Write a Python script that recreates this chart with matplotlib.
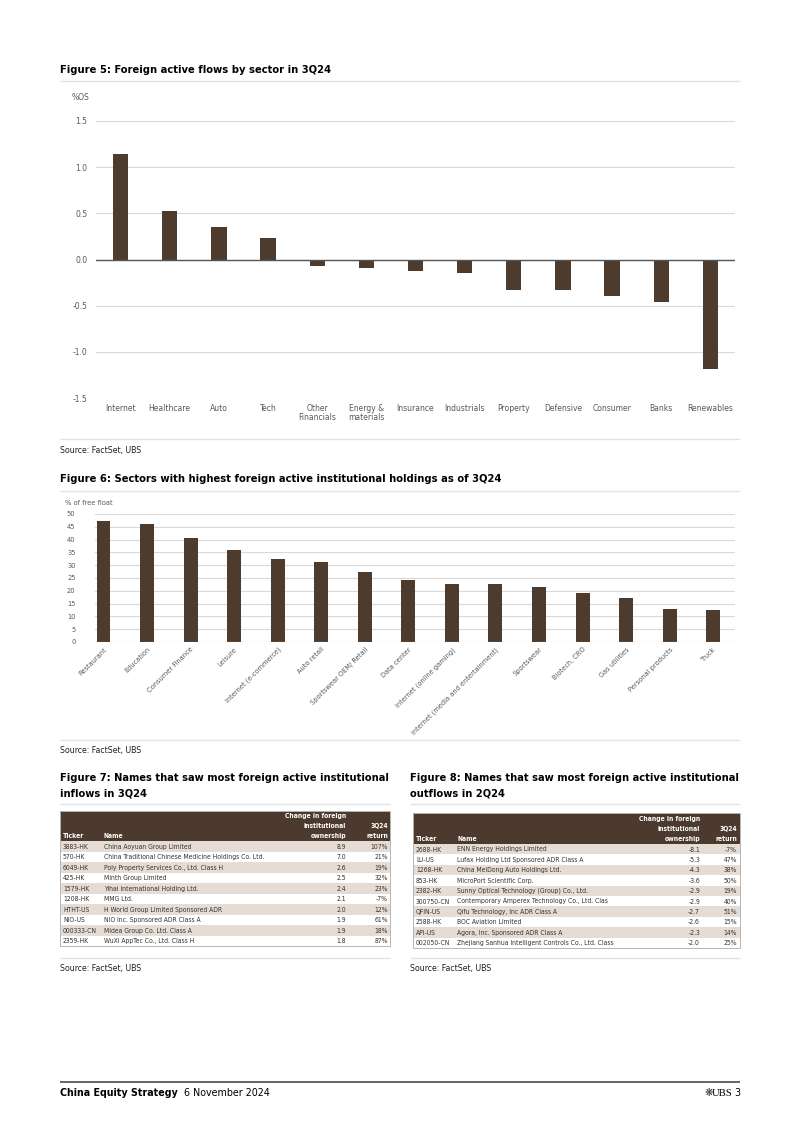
import matplotlib
matplotlib.use('Agg')
import matplotlib.pyplot as plt
from matplotlib import font_manager
from matplotlib.patches import Rectangle

W, H = 802, 1134

# Figure 5 data
flow_sectors = ['Internet', 'Healthcare', 'Auto', 'Tech', 'Other\nFinancials', 'Energy &\nmaterials',
                'Insurance', 'Industrials', 'Property', 'Defensive', 'Consumer', 'Banks', 'Renewables']
flow_values = [1.147, 0.527, 0.357, 0.234, -0.065, -0.09, -0.126, -0.148, -0.328, -0.328, -0.393, -0.465, -1.186]
flow_ticks = [-1.5, -1.0, -0.5, 0.0, 0.5, 1.0, 1.5]

# Figure 6 data
hold_sectors = ['Restaurant', 'Education', 'Consumer Finance', 'Leisure', 'Internet (e-commerce)', 'Auto retail',
                'Sportswear OEM/ Retail', 'Data center', 'Internet (online gaming)',
                'Internet (media and entertainment)', 'Sportswear', 'Biotech, CRO', 'Gas utilities',
                'Personal products', 'Truck']
hold_values = [47.4, 46.0, 40.5, 36.0, 32.6, 31.3, 27.5, 24.4, 22.7, 22.6, 21.3, 19.2, 17.0, 13.0, 12.5]
hold_ticks = [0, 5, 10, 15, 20, 25, 30, 35, 40, 45, 50]

# Figure 7 data
in_tickers = ['3883-HK', '570-HK', '6049-HK', '425-HK', '1579-HK', '1208-HK', 'HTHT-US', 'NIO-US',
              '000333-CN', '2359-HK']
in_names = ['China Aoyuan Group Limited', 'China Traditional Chinese Medicine Holdings Co. Ltd.',
            'Poly Property Services Co., Ltd. Class H', 'Minth Group Limited', 'Yihai International Holding Ltd.',
            'MMG Ltd.', 'H World Group Limited Sponsored ADR', 'NIO Inc. Sponsored ADR Class A',
            'Midea Group Co. Ltd. Class A', 'WuXi AppTec Co., Ltd. Class H']
in_change = [8.9, 7.0, 2.6, 2.5, 2.4, 2.1, 2.0, 1.9, 1.9, 1.8]
in_return = [107, 21, 19, 32, 23, -7, 12, 61, 18, 87]

# Figure 8 data
out_tickers = ['2688-HK', 'LU-US', '1268-HK', '853-HK', '2382-HK', '300750-CN', 'QFIN-US', '2588-HK',
               'API-US', '002050-CN']
out_names = ['ENN Energy Holdings Limited', 'Lufax Holding Ltd Sponsored ADR Class A',
             'China MeiDong Auto Holdings Ltd.', 'MicroPort Scientific Corp.',
             'Sunny Optical Technology (Group) Co., Ltd.', 'Contemporary Amperex Technology Co., Ltd. Clas',
             'Qifu Technology, Inc ADR Class A', 'BOC Aviation Limited', 'Agora, Inc. Sponsored ADR Class A',
             'Zhejiang Sanhua Intelligent Controls Co., Ltd. Class']
out_change = [-8.1, -5.3, -4.3, -3.6, -2.9, -2.9, -2.7, -2.6, -2.3, -2.0]
out_return = [-7, 47, 38, 50, 19, 40, 51, 15, 14, 25]

BROWN = '#4d3b2e'
HEAD = '#4b3a2d'
SHADE = '#e6dcd3'
GRID = '#d9d9d9'
GREY = '#595959'
RULE = '#e3e3e3'

# pick the narrowest sans available
fonts = font_manager.fontManager.ttflist
names = {f.name for f in fonts}
if 'Liberation Sans Narrow' in names:
    plt.rcParams['font.family'] = ['Liberation Sans Narrow', 'DejaVu Sans']
elif any(f.name == 'DejaVu Sans' and 'Condensed' in f.fname for f in fonts):
    plt.rcParams['font.family'] = ['DejaVu Sans']
    plt.rcParams['font.stretch'] = 'condensed'
else:
    plt.rcParams['font.family'] = ['Liberation Sans', 'DejaVu Sans']

fig = plt.figure(figsize=(W / 100, H / 100), dpi=100)
page = fig.add_axes([0, 0, 1, 1])
page.set_xlim(0, W)
page.set_ylim(H, 0)
page.axis('off')
renderer = fig.canvas.get_renderer()


def fit(s, target, weight='normal'):
    # font size that makes s about target pixels wide
    t = page.text(0, 0, s, fontsize=10, fontweight=weight)
    w = t.get_window_extent(renderer).width
    t.remove()
    return 10 * target / w


def box(x0, y0, x1, y1):
    return [x0 / W, 1 - y1 / H, (x1 - x0) / W, (y1 - y0) / H]


def rule(y, x0=60, x1=740, color=RULE, lw=1.0):
    page.plot([x0, x1], [y, y], color=color, lw=lw, solid_capstyle='butt')


FS_TITLE = fit('Figure 5: Foreign active flows by sector in 3Q24', 269, 'bold')
FS_TITLE2 = fit('Figure 7: Names that saw most foreign active institutional', 326, 'bold')
FS_SRC = fit('Source: FactSet, UBS', 83)
FS_TICK5 = fit('Healthcare', 42)
FS_TICK6 = fit('Internet (media and entertainment)', 118)
FS_TAB = fit('China Traditional Chinese Medicine Holdings Co. Ltd.', 160)
FS_FOOT = fit('China Equity Strategy', 117, 'bold')


def title(x, y, s, fs=FS_TITLE):
    page.text(x, y, s, fontsize=fs, fontweight='bold', color='#000000', va='center', ha='left')


def source(x, y):
    page.text(x, y, 'Source: FactSet, UBS', fontsize=FS_SRC, color='#222222', va='center', ha='left')


# ---------- Figure 5 ----------
title(60, 70, 'Figure 5: Foreign active flows by sector in 3Q24')
rule(81)
page.text(72, 97, '%OS', fontsize=FS_TICK5, color=GREY, va='center', ha='left')

ax1 = fig.add_axes(box(96, 121, 735, 398))
ax1.bar(range(len(flow_values)), flow_values, width=0.31, color=BROWN, zorder=3)
ax1.set_xlim(-0.5, len(flow_values) - 0.5)
ax1.set_ylim(-1.5, 1.5)
ax1.set_yticks(flow_ticks)
ax1.set_yticklabels([f'{t:.1f}' for t in flow_ticks])
ax1.set_xticks(range(len(flow_sectors)))
ax1.set_xticklabels(flow_sectors, linespacing=1.0)
ax1.yaxis.grid(True, color=GRID, lw=0.8, zorder=0)
ax1.axhline(0, color='#555555', lw=1.0, zorder=4)
for sp in ax1.spines.values():
    sp.set_visible(False)
ax1.tick_params(axis='both', length=0, labelsize=FS_TICK5, labelcolor=GREY)
ax1.tick_params(axis='y', pad=6)
ax1.tick_params(axis='x', pad=4)

rule(439)
source(60, 451)

# ---------- Figure 6 ----------
title(60, 479, 'Figure 6: Sectors with highest foreign active institutional holdings as of 3Q24')
rule(491)
page.text(65, 503, '% of free float', fontsize=FS_TICK6, color=GREY, va='center', ha='left')

ax2 = fig.add_axes(box(95, 514, 735, 642))
ax2.bar(range(len(hold_values)), hold_values, width=0.32, color=BROWN, zorder=3)
ax2.set_xlim(-0.195, len(hold_values) - 1 + 0.5)
ax2.set_ylim(0, 50)
ax2.set_yticks(hold_ticks)
ax2.set_xticks(range(len(hold_sectors)))
ax2.set_xticklabels(hold_sectors, rotation=45, ha='right', rotation_mode='anchor')
ax2.yaxis.grid(True, color=GRID, lw=0.8, zorder=0)
ax2.axhline(0, color=GRID, lw=0.8, zorder=4)
for sp in ax2.spines.values():
    sp.set_visible(False)
ax2.tick_params(axis='both', length=0, labelsize=FS_TICK6, labelcolor=GREY)
ax2.tick_params(axis='y', pad=14)
ax2.tick_params(axis='x', pad=3)

rule(740)
source(60, 751)


# ---------- Tables ----------
def table(x0, x1, top, head_h, row_h, cols, tickers, names, change, ret):
    tx, nx, cx, rx = cols
    body_top = top + head_h
    bottom = body_top + row_h * len(tickers)
    page.add_patch(Rectangle((x0, top), x1 - x0, head_h, facecolor=HEAD, edgecolor='none'))
    hb = body_top - 3
    fs = FS_TAB
    page.text(tx, hb, 'Ticker', fontsize=fs, color='white', fontweight='bold', ha='left', va='baseline')
    page.text(nx, hb, 'Name', fontsize=fs, color='white', fontweight='bold', ha='left', va='baseline')
    for i, s in enumerate(['ownership', 'institutional', 'Change in foreign']):
        page.text(cx, hb - 10 * i, s, fontsize=fs, color='white', fontweight='bold', ha='right', va='baseline')
    for i, s in enumerate(['return', '3Q24']):
        page.text(rx, hb - 10 * i, s, fontsize=fs, color='white', fontweight='bold', ha='right', va='baseline')
    for i in range(len(tickers)):
        y = body_top + row_h * i
        if i % 2 == 0:
            page.add_patch(Rectangle((x0, y), x1 - x0, row_h, facecolor=SHADE, edgecolor='none'))
        yc = y + row_h / 2 + 0.3
        page.text(tx, yc, tickers[i], fontsize=fs, color='#333333', ha='left', va='center')
        page.text(nx, yc, names[i], fontsize=fs, color='#333333', ha='left', va='center')
        page.text(cx, yc, f'{change[i]:.1f}', fontsize=fs, color='#333333', ha='right', va='center')
        page.text(rx, yc, f'{ret[i]}%', fontsize=fs, color='#333333', ha='right', va='center')
    page.add_patch(Rectangle((x0, top), x1 - x0, bottom - top, facecolor='none', edgecolor='#b5b5b5', lw=0.7))


title(60, 778, 'Figure 7: Names that saw most foreign active institutional', FS_TITLE2)
title(60, 794, 'inflows in 3Q24', FS_TITLE2)
rule(804, 60, 390)
table(60, 390, 811, 30, 10.5, (63, 104, 346, 388), in_tickers, in_names, in_change, in_return)
rule(958, 60, 390)
source(60, 969)

title(410, 778, 'Figure 8: Names that saw most foreign active institutional', FS_TITLE2)
title(410, 794, 'outflows in 2Q24', FS_TITLE2)
rule(804, 410, 740)
table(413, 740, 813, 31, 10.4, (416, 457, 700, 737), out_tickers, out_names, out_change, out_return)
rule(958, 410, 740)
source(410, 969)

# ---------- Footer ----------
rule(1082, color='#3a3a3a', lw=1.1)
page.text(60, 1093, 'China Equity Strategy', fontsize=FS_FOOT, fontweight='bold', va='center')
page.text(184, 1093, '6 November 2024', fontsize=FS_FOOT, va='center')
page.text(733, 1093, 'UBS', fontsize=FS_FOOT, family=['Liberation Serif', 'DejaVu Serif'], va='center', ha='right')
page.text(713, 1093, '\u274B', fontsize=8, family=['DejaVu Sans'], va='center', ha='right', color='#333333')
page.text(740, 1093, '3', fontsize=FS_FOOT, va='center', ha='right')

fig.savefig('out.png', dpi=100, facecolor='white')
